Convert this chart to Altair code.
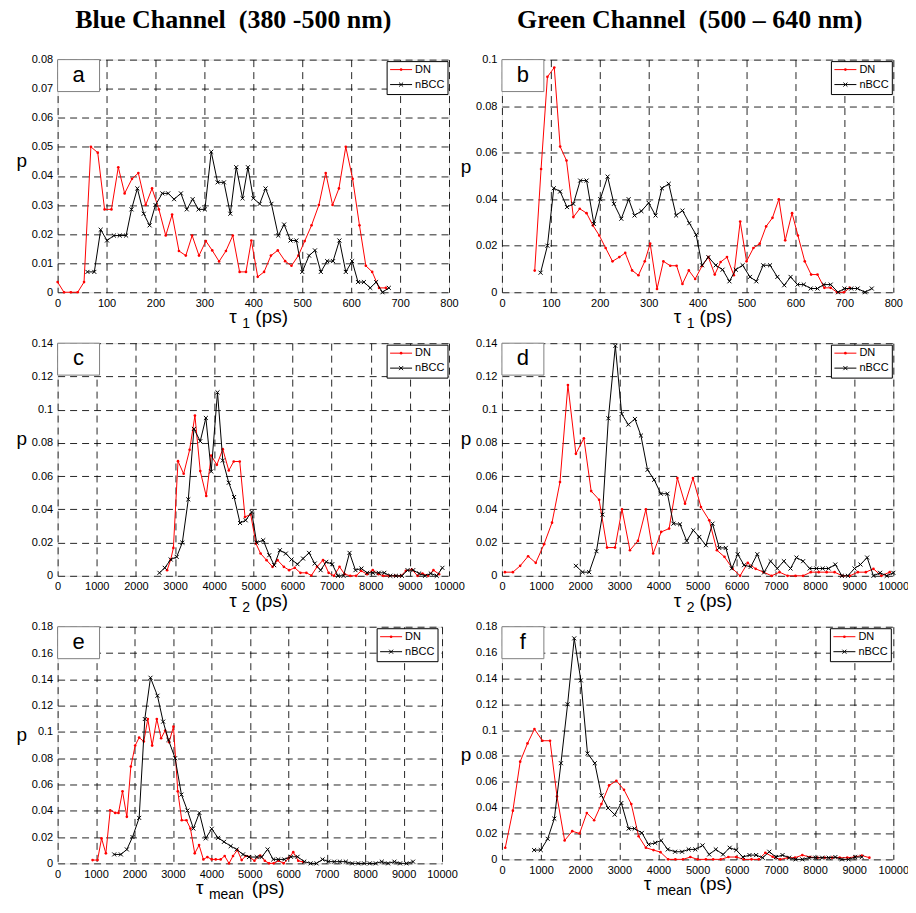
import altair as alt
import pandas as pd

SANS = "Liberation Sans"
SERIF = "Liberation Serif"
X_MARK = "M-1,-1L1,1M-1,1L1,-1"

# ---------------- data ----------------
# panel a : tau1, blue channel
a_dn_x = [0, 13, 27, 41, 54, 68, 82, 96, 110, 124, 137, 152, 165, 180, 193, 207, 221, 234, 248, 262,
          275, 289, 303, 316, 330, 344, 358, 372, 385, 396, 409, 422, 436, 450, 465, 478, 492, 505, 519, 534,
          548, 562, 575, 589, 603, 617, 630, 643, 657, 671]
a_dn_y = [0.0035, 0, 0, 0, 0.0035, 0.05, 0.048, 0.0285, 0.0285, 0.043, 0.034, 0.039, 0.041, 0.030, 0.0357,
          0.0285, 0.0195, 0.0267, 0.0142, 0.0126, 0.0195, 0.0126, 0.0176, 0.0144, 0.0106, 0.0142, 0.0195,
          0.007, 0.007, 0.0178, 0.0053, 0.007, 0.0126, 0.0144, 0.0107, 0.0091, 0.0126, 0.0176, 0.023, 0.030,
          0.041, 0.030, 0.0357, 0.05, 0.039, 0.023, 0.0091, 0.007, 0.0015, 0.0015]
a_nb_x = [61, 75, 88, 101, 115, 127, 140, 151, 163, 176, 188, 200, 214, 226, 238, 252, 264, 276, 288, 301,
          314, 327, 340, 353, 365, 378, 389, 400, 413, 425, 437, 451, 463, 476, 488, 500, 514, 526, 538, 551,
          563, 576, 589, 602, 614, 626, 639, 651, 664, 677]
a_nb_y = [0.007, 0.007, 0.0215, 0.0178, 0.0195, 0.0195, 0.0195, 0.0285, 0.0357, 0.027, 0.023, 0.030, 0.034,
          0.034, 0.032, 0.034, 0.0285, 0.032, 0.0285, 0.0285, 0.0483, 0.0378, 0.0378, 0.027, 0.043, 0.0323,
          0.043, 0.0323, 0.0304, 0.0357, 0.0304, 0.0195, 0.0233, 0.0178, 0.0178, 0.007, 0.0126, 0.0144, 0.007,
          0.0107, 0.0107, 0.0178, 0.007, 0.0107, 0.0035, 0.0035, 0.0015, 0.0035, 0, 0.0015]

# panel b : tau1, green channel
b_dn_x = [67, 80, 93, 107, 119, 132, 146, 159, 173, 186, 199, 212, 226, 240, 252, 266, 279, 292, 303, 317,
          330, 344, 357, 369, 382, 395, 409, 422, 435, 447, 460, 474, 487, 500, 514, 527, 540, 553, 566, 579,
          593, 605, 619, 632, 645, 659, 672, 685, 699, 711]
b_dn_y = [0.0093, 0.053, 0.0926, 0.0966, 0.0626, 0.0566, 0.0323, 0.0359, 0.034, 0.0287, 0.0244, 0.019, 0.0133,
          0.0151, 0.0169, 0.0094, 0.0073, 0.0133, 0.0209, 0.0014, 0.0133, 0.0114, 0.0114, 0.0036, 0.0094,
          0.0057, 0.0113, 0.0151, 0.0076, 0.013, 0.0151, 0.0073, 0.0304, 0.0133, 0.019, 0.0209, 0.0283, 0.032,
          0.04, 0.0223, 0.034, 0.0244, 0.0133, 0.0076, 0.0076, 0.0019, 0.0019, 0, 0, 0.0019]
b_nb_x = [79, 93, 106, 119, 133, 146, 160, 173, 188, 201, 216, 229, 244, 259, 271, 285, 300, 314, 327, 341,
          356, 369, 383, 397, 409, 422, 437, 451, 465, 478, 492, 507, 520, 534, 548, 563, 577, 590, 604, 617,
          631, 645, 658, 672, 687, 700, 714, 727, 742, 756]
b_nb_y = [0.0084, 0.02, 0.0447, 0.0433, 0.0366, 0.038, 0.048, 0.048, 0.0294, 0.04, 0.0497, 0.038, 0.0316,
          0.04, 0.033, 0.0349, 0.0384, 0.033, 0.0447, 0.0466, 0.033, 0.0351, 0.0297, 0.0247, 0.0116, 0.0151,
          0.0116, 0.0097, 0.0047, 0.0097, 0.0116, 0.0066, 0.0047, 0.0116, 0.0116, 0.0066, 0.003, 0.0066,
          0.0033, 0.0033, 0.0016, 0.0016, 0.0033, 0.0033, 0, 0.0016, 0.0016, 0.0016, 0, 0.0016]

# panel c : tau2, blue channel
c_dn_x = [2797, 2890, 2958, 3076, 3220, 3373, 3508, 3644, 3797, 3924, 4068, 4220, 4373, 4500, 4653, 4788,
          4932, 5068, 5186, 5339, 5492, 5619, 5780, 5915, 6059, 6203, 6356, 6483, 6627, 6780, 6924, 7059,
          7203, 7331, 7475, 7627, 7754, 7907, 8051, 8195, 8322, 8475, 8627, 8771, 8898, 9051, 9195, 9322,
          9466, 9602, 9746]
c_dn_y = [0.0034, 0.0098, 0.0168, 0.069, 0.0614, 0.0758, 0.0964, 0.063, 0.048, 0.0724, 0.0668, 0.0762,
          0.0634, 0.0688, 0.0688, 0.0354, 0.037, 0.0194, 0.0134, 0.0094, 0.0054, 0.0094, 0.0054, 0.0034,
          0.0048, 0.0018, 0.0018, 0.0002, 0.0054, 0.0094, 0.0018, 0, 0.0054, 0.001, 0, 0, 0.003, 0.001,
          0.0034, 0.001, 0, 0, 0, 0, 0.003, 0.0038, 0, 0.0014, 0, 0.0034, 0.001]
c_nb_x = [2602, 2737, 2890, 3042, 3186, 3339, 3483, 3644, 3788, 3924, 4085, 4220, 4373, 4508, 4661, 4805,
          4958, 5085, 5254, 5407, 5534, 5678, 5831, 5975, 6127, 6271, 6424, 6568, 6720, 6864, 7017, 7161,
          7305, 7458, 7610, 7763, 7907, 8051, 8203, 8347, 8500, 8644, 8797, 8941, 9085, 9237, 9390, 9534,
          9686, 9831]
c_nb_y = [0.0018, 0.0048, 0.0098, 0.0114, 0.02, 0.046, 0.0884, 0.081, 0.095, 0.0628, 0.1104, 0.0694, 0.056,
          0.0474, 0.0318, 0.0334, 0.0384, 0.02, 0.0214, 0.0124, 0.0064, 0.0154, 0.0134, 0.0098, 0.007, 0.0104,
          0.0138, 0.0074, 0.0034, 0.0084, 0.007, 0, 0, 0.0138, 0.0034, 0.0044, 0.0018, 0.0018, 0.0018, 0.0018,
          0, 0, 0, 0.0034, 0.0034, 0.0014, 0, 0.0014, 0, 0.0048]

# panel d : tau2, green channel
d_dn_x = [76, 280, 466, 669, 864, 1076, 1280, 1483, 1686, 1890, 2093, 2280, 2483, 2686, 2890, 3068, 3271,
          3475, 3678, 3864, 4068, 4271, 4483, 4678, 4881, 5085, 5297, 5492, 5686, 5890, 6085, 6280, 6483,
          6686, 6890, 7093, 7297, 7500, 7695, 7890, 8093, 8297, 8500, 8695, 8890, 9093, 9297, 9492, 9695, 9907]
d_dn_y = [0.0022, 0.0022, 0.006, 0.0118, 0.0078, 0.019, 0.032, 0.0564, 0.1148, 0.0734, 0.0828, 0.051, 0.0458,
          0.017, 0.017, 0.04, 0.0154, 0.021, 0.04, 0.0134, 0.0264, 0.0284, 0.0588, 0.0434, 0.0588, 0.0414,
          0.0334, 0.0154, 0.0114, 0.0044, 0, 0.0078, 0.0042, 0.0022, 0, 0.0022, 0, 0, 0, 0.0022, 0.0022,
          0.0022, 0.0022, 0, 0, 0.0022, 0.0022, 0.0042, 0, 0.0022]
d_nb_x = [1890, 2059, 2229, 2415, 2568, 2720, 2898, 3059, 3229, 3398, 3551, 3720, 3890, 4059, 4229, 4381,
          4551, 4720, 4890, 5042, 5212, 5381, 5551, 5720, 5873, 6025, 6186, 6356, 6525, 6695, 6864, 7034,
          7203, 7373, 7525, 7695, 7864, 8034, 8195, 8347, 8517, 8686, 8839, 9008, 9161, 9331, 9492, 9661,
          9831, 10000]
d_nb_y = [0.006, 0.0022, 0.0022, 0.0148, 0.0368, 0.0948, 0.1384, 0.0974, 0.091, 0.0944, 0.0844, 0.0638,
          0.0578, 0.0494, 0.0494, 0.0314, 0.031, 0.021, 0.0274, 0.0234, 0.0184, 0.0314, 0.0168, 0.0168, 0.0044,
          0.013, 0.0064, 0.0054, 0.013, 0.002, 0.0088, 0.0044, 0.0088, 0.0044, 0.011, 0.0088, 0.0044, 0.0044,
          0.0044, 0.0044, 0.0068, 0, 0, 0.0044, 0.0068, 0.011, 0, 0.0018, 0, 0.0018]

# panel e : tau_mean, blue channel
e_dn_x = [909, 1039, 1143, 1255, 1368, 1498, 1584, 1688, 1801, 1905, 2017, 2121, 2242, 2346, 2459, 2580,
          2693, 2797, 2900, 3013, 3126, 3229, 3351, 3455, 3567, 3680, 3792, 3896, 4009, 4113, 4242, 4346,
          4459, 4563, 4675, 4788, 4892, 4983, 5120, 5270, 5390, 5500, 5620, 5750, 5880, 6010, 6130, 6260, 6390]
e_dn_y = [0.0025, 0.0025, 0.019, 0.0076, 0.0404, 0.0384, 0.0384, 0.0548, 0.0354, 0.0737, 0.0896, 0.0957,
          0.0927, 0.1098, 0.0896, 0.1098, 0.0952, 0.101, 0.0922, 0.104, 0.0548, 0.0328, 0.0328, 0.0265,
          0.0076, 0.0139, 0.003, 0.0048, 0.003, 0.003, 0.003, 0.0056, 0, 0.0056, 0.0101, 0.0025, 0.0056, 0.005,
          0.002, 0.006, 0.002, 0, 0, 0.002, 0, 0.004, 0.0085, 0.002, 0.001]
e_nb_x = [1472, 1645, 1801, 1948, 2121, 2268, 2416, 2597, 2745, 2883, 3056, 3221, 3377, 3532, 3688, 3853,
          4009, 4173, 4329, 4502, 4658, 4823, 4978, 5180, 5307, 5463, 5610, 5740, 5896, 6069, 6242, 6416,
          6580, 6736, 6892, 7039, 7195, 7342, 7498, 7662, 7818, 7974, 8121, 8277, 8433, 8597, 8762, 8909,
          9074, 9247]
e_nb_y = [0.0068, 0.0068, 0.0106, 0.02, 0.0346, 0.1098, 0.1412, 0.1275, 0.1078, 0.0939, 0.08, 0.0523, 0.0402,
          0.0265, 0.0384, 0.019, 0.0263, 0.0194, 0.0164, 0.0131, 0.0106, 0.0068, 0.0048, 0.0048, 0.0048,
          0.0106, 0.003, 0.003, 0.003, 0.005, 0.005, 0.0013, 0, 0, 0.003, 0.0013, 0.0013, 0.0013, 0.0013, 0,
          0, 0, 0, 0, 0.0013, 0, 0.0013, 0, 0, 0.0013]

# panel f : tau_mean, green channel
f_dn_x = [85, 280, 466, 653, 831, 1034, 1229, 1407, 1602, 1797, 1983, 2169, 2356, 2542, 2737, 2924, 3119,
          3305, 3492, 3678, 3873, 4051, 4246, 4432, 4627, 4814, 5000, 5211, 5397, 5590, 5785, 5987, 6181,
          6376, 6561, 6730, 6916, 7110, 7304, 7489, 7675, 7869, 8063, 8249, 8435, 8629, 8823, 9008, 9194, 9388]
f_dn_y = [0.009, 0.0377, 0.0756, 0.0897, 0.1008, 0.0918, 0.0918, 0.0487, 0.0146, 0.0218, 0.02, 0.0359,
          0.0303, 0.0428, 0.0572, 0.0608, 0.0538, 0.0428, 0.0179, 0.009, 0.0072, 0.0056, 0, 0, 0, 0.0018, 0,
          0, 0, 0, 0.0018, 0.0018, 0, 0, 0, 0.0051, 0.002, 0, 0.0013, 0.0013, 0.0033, 0.0018, 0.0013, 0.0013,
          0.0013, 0.0013, 0.0013, 0.0018, 0.003, 0.0013]
f_nb_x = [822, 992, 1169, 1339, 1508, 1678, 1847, 2017, 2186, 2373, 2542, 2712, 2881, 3051, 3237, 3390,
          3576, 3746, 3915, 4068, 4237, 4424, 4602, 4771, 4941, 5127, 5295, 5464, 5650, 5819, 5987, 6156,
          6325, 6494, 6662, 6831, 7000, 7169, 7338, 7506, 7675, 7844, 8013, 8181, 8350, 8519, 8688, 8857,
          9025, 9194]
f_nb_y = [0.0072, 0.0072, 0.0159, 0.0315, 0.0744, 0.12, 0.171, 0.1385, 0.082, 0.0744, 0.0495, 0.0397,
          0.0346, 0.0436, 0.0238, 0.0238, 0.0205, 0.0115, 0.0128, 0.0146, 0.0077, 0.0059, 0.0059, 0.0077,
          0.0077, 0.0108, 0.0038, 0.0077, 0.0038, 0.009, 0.0072, 0.0018, 0.0033, 0.0033, 0.0013, 0.0059,
          0.0018, 0.0033, 0.0013, 0, 0, 0.0013, 0.0013, 0.0013, 0.0013, 0.0018, 0, 0, 0.0018, 0.0018]

series_names = ["DN", "nBCC"]
panel_letters = ["a", "b", "c", "d", "e", "f"]
headers = ["Blue Channel\u00a0 (380 -500 nm)", "Green Channel\u00a0 (500 \u2013 640 nm)"]

one = pd.DataFrame({"k": [0]})


def panel(letter, dn_x, dn_y, nb_x, nb_y, xmax, xstep, ymax, ystep, w, h,
          sub, py, lg_right, header=None, header_x=0):
    df = pd.DataFrame({
        "t": list(dn_x) + list(nb_x),
        "p": list(dn_y) + list(nb_y),
        "series": [series_names[0]] * len(dn_x) + [series_names[1]] * len(nb_x),
    })
    xvals = list(range(0, xmax + 1, xstep))
    n = int(round(ymax / ystep))
    yvals = [round(i * ystep, 4) for i in range(n + 1)]
    common = dict(grid=True, ticks=False, domain=False, labelFont=SANS, labelFontSize=11,
                  labelColor="black", labelFlush=False, labelOverlap=False, gridColor="#000000",
                  gridDash=[7, 5], gridWidth=1, gridOpacity=0.85, title=None, labelPadding=5)
    x = alt.X("t:Q", scale=alt.Scale(domain=[0, xmax], nice=False, zero=False),
              axis=alt.Axis(values=xvals, format="d", **common))
    y = alt.Y("p:Q", scale=alt.Scale(domain=[0, ymax], nice=False),
              axis=alt.Axis(values=yvals, labelExpr="format(datum.value, '.2~f')", **common))
    base = alt.Chart(df)
    dn = base.transform_filter(alt.datum.series == series_names[0])
    nb = base.transform_filter(alt.datum.series == series_names[1])
    layers = [
        dn.mark_line(color="#ff0000", strokeWidth=1).encode(x=x, y=y),
        dn.mark_point(shape="circle", filled=True, size=7, color="#ff0000", opacity=1).encode(x=x, y=y),
        nb.mark_line(color="black", strokeWidth=1).encode(x=x, y=y),
        nb.mark_point(shape=X_MARK, filled=False, size=16, color="black", strokeWidth=1,
                      opacity=1).encode(x=x, y=y),
    ]
    deco = alt.Chart(one)
    # panel letter box
    layers.append(deco.mark_rect(fill="white", stroke="#808080", strokeWidth=1).encode(
        x=alt.value(0), x2=alt.value(42), y=alt.value(0), y2=alt.value(32)))
    layers.append(deco.mark_text(text=letter, font=SANS, fontSize=22, align="center",
                                 baseline="middle", color="black").encode(x=alt.value(21), y=alt.value(15)))
    # legend box
    bx = w - lg_right - 61
    layers.append(deco.mark_rect(fill="white", stroke="black", strokeWidth=1).encode(
        x=alt.value(bx), x2=alt.value(bx + 61), y=alt.value(2), y2=alt.value(35)))
    for yy, col, lab, shp, filled, sz in [(10, "#ff0000", series_names[0], "circle", True, 7),
                                          (25, "black", series_names[1], X_MARK, False, 16)]:
        layers.append(deco.mark_rule(color=col, strokeWidth=1).encode(
            x=alt.value(bx + 3), x2=alt.value(bx + 25), y=alt.value(yy)))
        layers.append(deco.mark_point(shape=shp, filled=filled, size=sz, color=col, strokeWidth=1,
                                      opacity=1).encode(x=alt.value(bx + 14), y=alt.value(yy)))
        layers.append(deco.mark_text(text=lab, font=SANS, fontSize=11, align="left", baseline="middle",
                                     color="black").encode(x=alt.value(bx + 28), y=alt.value(yy)))
    # y title "p"
    layers.append(deco.mark_text(text="p", font=SANS, fontSize=19, align="center", baseline="middle",
                                 color="black").encode(x=alt.value(-36), y=alt.value(py)))
    # x title  tau_sub (ps)
    cx = w / 2
    if sub == "mean":
        o_tau, o_sub, o_ps = -54, -41, 2
    else:
        o_tau, o_sub, o_ps = -24, -11, 2
    layers.append(deco.mark_text(text="\u03c4", font=SANS, fontSize=19, align="left",
                                 baseline="alphabetic", color="black").encode(
        x=alt.value(cx + o_tau), y=alt.value(h + 31)))
    layers.append(deco.mark_text(text=sub, font=SANS, fontSize=14, align="left",
                                 baseline="alphabetic", color="black").encode(
        x=alt.value(cx + o_sub), y=alt.value(h + 36)))
    layers.append(deco.mark_text(text="(ps)", font=SANS, fontSize=19, align="left",
                                 baseline="alphabetic", color="black").encode(
        x=alt.value(cx + o_ps), y=alt.value(h + 31)))
    if header is not None:
        layers.append(deco.mark_text(text=header, font=SERIF, fontSize=26, fontWeight="bold",
                                     align="center", baseline="alphabetic", color="black").encode(
            x=alt.value(header_x), y=alt.value(-32)))
    return alt.layer(*layers).properties(width=w, height=h)


pa = panel(panel_letters[0], a_dn_x, a_dn_y, a_nb_x, a_nb_y, 800, 100, 0.08, 0.01, 392, 233, "1", 102, 1,
           headers[0], 176)
pb = panel(panel_letters[1], b_dn_x, b_dn_y, b_nb_x, b_nb_y, 800, 100, 0.1, 0.02, 392, 233, "1", 108, 1,
           headers[1], 188)
pc = panel(panel_letters[2], c_dn_x, c_dn_y, c_nb_x, c_nb_y, 10000, 1000, 0.14, 0.02, 392, 233, "2", 96, 1)
pd_ = panel(panel_letters[3], d_dn_x, d_dn_y, d_nb_x, d_nb_y, 10000, 1000, 0.14, 0.02, 392, 233, "2", 96, 1)
pe = panel(panel_letters[4], e_dn_x, e_dn_y, e_nb_x, e_nb_y, 10000, 1000, 0.18, 0.02, 385, 237, "mean", 108, 4)
pf = panel(panel_letters[5], f_dn_x, f_dn_y, f_nb_x, f_nb_y, 10000, 1000, 0.18, 0.02, 392, 233, "mean", 128, 2)

chart = alt.concat(pa, pb, pc, pd_, pe, pf, columns=2, spacing={"row": 51, "column": 53},
                   bounds="flush").properties(
    padding={"left": 7.7, "top": -3, "right": -1.3, "bottom": -2}
).configure_view(stroke="black", strokeWidth=1).configure(font=SANS, background="white")

chart.save("out.html", embed_options={"renderer": "svg", "actions": False})
